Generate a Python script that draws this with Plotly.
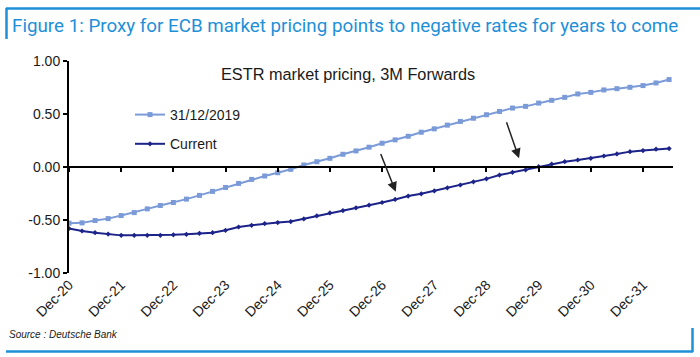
import plotly.graph_objects as go

# ---- data ----
quarter_index = list(range(47))  # quarterly forwards, Dec-20 onward
tick_positions = [0, 4, 8, 12, 16, 20, 24, 28, 32, 36, 40, 44]
tick_labels = ["Dec-20", "Dec-21", "Dec-22", "Dec-23", "Dec-24", "Dec-25",
               "Dec-26", "Dec-27", "Dec-28", "Dec-29", "Dec-30", "Dec-31"]

pricing_2019 = [-0.53, -0.527, -0.505, -0.487, -0.458, -0.43, -0.395, -0.363,
                -0.335, -0.303, -0.268, -0.23, -0.193, -0.155, -0.117, -0.085,
                -0.054, -0.022, 0.019, 0.05, 0.082, 0.12, 0.152, 0.187, 0.224,
                0.256, 0.29, 0.328, 0.36, 0.395, 0.43, 0.46, 0.493, 0.524,
                0.556, 0.572, 0.603, 0.629, 0.657, 0.689, 0.704, 0.727, 0.739,
                0.752, 0.768, 0.793, 0.825]
pricing_current = [-0.58, -0.604, -0.62, -0.633, -0.645, -0.645, -0.645, -0.645,
                   -0.64, -0.635, -0.626, -0.62, -0.597, -0.566, -0.55, -0.534,
                   -0.524, -0.515, -0.49, -0.461, -0.433, -0.411, -0.385, -0.36,
                   -0.335, -0.306, -0.274, -0.253, -0.226, -0.196, -0.17, -0.14,
                   -0.112, -0.076, -0.05, -0.028, 0.003, 0.028, 0.05, 0.066,
                   0.082, 0.104, 0.123, 0.145, 0.155, 0.168, 0.174]

y_tick_vals = [1.0, 0.5, 0.0, -0.5, -1.0]
y_tick_text = ["1.00", "0.50", "0.00", "-0.50", "-1.00"]

# arrows: (tail x, tail y, head x, head y)
arrows = [(23.85, 0.136, 25.05, -0.234), (33.5, 0.436, 34.5, 0.082)]

LIGHT = "#7b9ad8"
DARK = "#1c2389"
BLUE = "#1e90d8"
TXT = "#1a1a1a"

W, H = 700, 357
L, R, T, B = 69, 27, 61, 84
PW, PH = W - L - R, H - T - B


def px(x):
    return (x - L) / PW


def py(y):
    return (H - B - y) / PH


fig = go.Figure()
fig.add_trace(go.Scatter(
    x=quarter_index, y=pricing_2019, name="31/12/2019", mode="lines+markers",
    line=dict(color=LIGHT, width=2), marker=dict(symbol="square", size=5, color=LIGHT),
    legendgroup="a"))
fig.add_trace(go.Scatter(
    x=quarter_index, y=pricing_current, name="Current", mode="lines+markers",
    line=dict(color=DARK, width=2), marker=dict(symbol="diamond", size=4, color=DARK),
    legendgroup="b"))
# invisible trace to carry the zero-line axis
fig.add_trace(go.Scatter(x=quarter_index, y=pricing_current, xaxis="x2", mode="lines",
                         line=dict(width=0), opacity=0, showlegend=False, hoverinfo="skip"))

for (tx, ty, hx, hy) in arrows:
    fig.add_annotation(x=hx, y=hy, ax=tx, ay=ty, xref="x", yref="y", axref="x", ayref="y",
                       showarrow=True, arrowhead=2, arrowsize=1.3, arrowwidth=1.5,
                       arrowcolor="#222222", text="")

font_main = "Liberation Sans, Arial, sans-serif"

fig.update_layout(
    width=W, height=H, margin=dict(l=L, r=R, t=T, b=B, autoexpand=False),
    paper_bgcolor="white", plot_bgcolor="white",
    font=dict(family=font_main, size=14, color=TXT),
    showlegend=True,
    legend=dict(x=px(130), y=py(99), xanchor="left", yanchor="top",
                bgcolor="rgba(0,0,0,0)", font=dict(size=14, color=TXT),
                tracegroupgap=8, itemwidth=30),
    xaxis=dict(range=[0, 46.3], tickvals=tick_positions, ticktext=tick_labels,
               tickangle=-45, showline=False, showgrid=False, zeroline=False, ticks="",
               automargin=False, tickfont=dict(size=14, color=TXT)),
    xaxis2=dict(range=[0, 46.3], overlaying="x", anchor="free", position=0.5, side="bottom",
                tickvals=tick_positions, showticklabels=False, ticks="outside", ticklen=4,
                tickwidth=1.5, tickcolor="black", showline=True, linecolor="black",
                linewidth=2, showgrid=False, zeroline=False, automargin=False),
    yaxis=dict(range=[-1, 1], tickvals=y_tick_vals, ticktext=y_tick_text, showline=True,
               linecolor="black", linewidth=2, ticks="outside", ticklen=4, tickwidth=2,
               tickcolor="black", showgrid=False, zeroline=False, automargin=False,
               tickfont=dict(size=14, color=TXT)),
)

# texts
fig.add_annotation(text="Figure 1: Proxy for ECB market pricing points to negative rates for years to come",
                   xref="paper", yref="paper", x=px(10), y=py(26), xanchor="left", yanchor="middle",
                   showarrow=False, font=dict(family="Roboto, sans-serif", size=18.8, color=BLUE))
fig.add_annotation(text="ESTR market pricing, 3M Forwards", xref="paper", yref="paper",
                   x=px(348), y=py(74), xanchor="center", yanchor="middle", showarrow=False,
                   font=dict(size=16.3, color=TXT))
fig.add_annotation(text="<i>Source : Deutsche Bank</i>", xref="paper", yref="paper",
                   x=px(7), y=py(334), xanchor="left", yanchor="middle", showarrow=False,
                   font=dict(size=10, color=TXT))

# frame lines
frame = [(6, 8.5, 700, 8.5), (6.5, 8, 6.5, 39), (6, 351.5, 693, 351.5), (692.5, 328, 692.5, 352)]
for (x0, y0, x1, y1) in frame:
    fig.add_shape(type="line", xref="paper", yref="paper", x0=px(x0), y0=py(y0),
                  x1=px(x1), y1=py(y1), line=dict(color=BLUE, width=2.5))

fig.write_html("out.html", config={"displayModeBar": False},
               post_script="document.body.style.margin='0';document.body.style.overflow='hidden';")
